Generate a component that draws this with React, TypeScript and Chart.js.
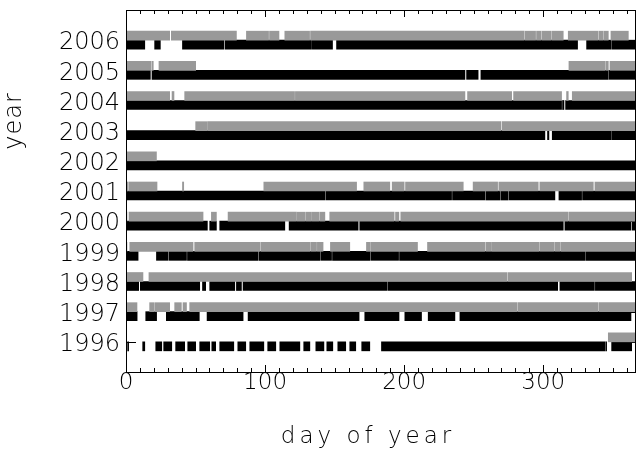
import React, { useEffect, useRef } from 'react';
import { Chart, registerables } from 'chart.js';

Chart.register(...registerables);

// ---- data (day-of-year coverage intervals) ----
const years = [2006, 2005, 2004, 2003, 2002, 2001, 2000, 1999, 1998, 1997, 1996];

const gray2006 = [[0, 31.4], [32.6, 79.4], [86.6, 102.5], [103.2, 110], [114.2, 132], [132.7, 286.3], [287, 294.5], [295.2, 298.5], [299.2, 305.8], [306.5, 314.4], [318, 339.3], [340, 343], [343.6, 346.8], [348.7, 361.2]];
const black2006 = [[0, 13.5], [20.6, 24.7], [40.6, 70.3], [71.2, 133.4], [134, 148.5], [151.4, 324.7], [331.2, 349], [349.7, 366]];
const gray2005 = [[0, 18], [18.7, 19.6], [23.7, 50.1], [318.5, 344.4], [345, 346.8], [348, 366]];
const black2005 = [[0, 17.5], [18.7, 243.7], [244.9, 253.2], [255.2, 346.6], [347.2, 366]];
const gray2004 = [[0, 31.4], [33.1, 34.5], [42.2, 121.2], [121.8, 243.7], [245.6, 277.3], [278.7, 313.2], [316.8, 318], [320.9, 366]];
const black2004 = [[0, 313.2], [313.9, 314.9], [316.1, 366]];
const gray2003 = [[50.1, 58], [58.6, 269.6], [270.5, 366]];
const black2003 = [[0, 301.2], [303.1, 304.1], [306.5, 349], [349.6, 366]];
const gray2002 = [[0, 21.9]];
const black2002 = [[0, 366]];
const gray2001 = [[0, 1.3], [2, 22.3], [40.6, 41.5], [99.1, 165.8], [171, 189.7], [191.4, 200], [201, 242.5], [249.6, 267.2], [268.1, 296.4], [297.6, 336], [337.2, 366]];
const black2001 = [[0, 143], [143.7, 234.1], [234.8, 258.1], [258.8, 268.8], [269.5, 274.8], [275.5, 308.4], [311.3, 327.6], [328.3, 366]];
const gray2000 = [[0, 0.7], [2.2, 55.4], [61.4, 65], [73.4, 122.6], [123.2, 128.6], [129.2, 133.4], [134, 138.8], [139.4, 143], [146.5, 192.8], [193.8, 196.2], [197.6, 318], [318.7, 366]];
const black2000 = [[0, 58.5], [60.2, 65], [67.4, 114.2], [117.3, 166.9], [168.1, 314.4], [315.6, 363.1], [364, 366]];
const gray1999 = [[0, 0.7], [2.7, 48.2], [49.4, 96.2], [96.9, 132.2], [132.8, 137], [137.6, 141.7], [147, 160.9], [172.9, 175.3], [175.9, 209.6], [216.8, 258.1], [258.8, 262.2], [262.8, 297.1], [297.7, 307.7], [308.3, 312], [312.6, 366]];
const black1999 = [[0, 8.7], [21.9, 30.2], [30.9, 43.5], [44.2, 95], [95.7, 139.3], [140, 147.8], [148.5, 175.3], [176, 196], [196.7, 330.3], [331, 366]];
const gray1998 = [[0, 12.2], [16.5, 274], [274.7, 363.6]];
const black1998 = [[0, 9.1], [10.3, 53], [55, 57.3], [60.2, 78.2], [79.4, 83], [84.2, 187.5], [188.2, 310.4], [312, 336.8], [337.5, 366]];
const gray1997 = [[0, 7.9], [17, 19.9], [20.6, 31.4], [35, 39.8], [41, 43.5], [45.8, 281], [281.7, 339.5], [340.2, 366]];
const black1997 = [[0, 8], [14.2, 22], [29, 52.7], [58.3, 84.2], [87.8, 167.6], [171.7, 196.3], [200.5, 212.5], [217.3, 236.5], [240.1, 363.1]];
const gray1996 = [[346.8, 366]];
const black1996 = [[1.2, 1.9], [12, 13.5], [21.4, 25.7], [27.1, 32.9], [35.7, 42.2], [44.4, 50.1], [53, 60.2], [61.7, 64.5], [67.4, 77.5], [80.4, 86.1], [89, 99.1], [101.9, 107.7], [110.6, 125], [127.8, 132.2], [136.5, 142.3], [144.4, 148.7], [152.3, 158], [160.9, 165.2], [169.5, 175.3], [183.7, 344.4], [345, 345.6], [349.2, 363.6]];

const grayRows = [gray2006, gray2005, gray2004, gray2003, gray2002, gray2001, gray2000, gray1999, gray1998, gray1997, gray1996];
const blackRows = [black2006, black2005, black2004, black2003, black2002, black2001, black2000, black1999, black1998, black1997, black1996];

const xTickValues = [0, 100, 200, 300];
const xTitle = 'day of year';
const yTitle = 'year';

const FONT = "'DejaVu Sans', sans-serif";

export default function App() {
  const ref = useRef<HTMLCanvasElement>(null);

  useEffect(() => {
    if (!ref.current) return;
    const grayData: any[] = [];
    const blackData: any[] = [];
    years.forEach((yr, i) => {
      grayRows[i].forEach(([s, e]) => grayData.push({ x: [s, e], y: yr }));
      blackRows[i].forEach(([s, e]) => blackData.push({ x: [s, e], y: yr }));
    });

    const framePlugin = {
      id: 'frame',
      beforeDatasetsDraw(chart: any) {
        const { ctx, chartArea, scales } = chart;
        const { left, right, top, bottom } = chartArea;
        const x = scales.x;
        const y = scales.y;
        ctx.save();
        ctx.strokeStyle = '#000';
        ctx.lineWidth = 1;
        ctx.beginPath();
        for (let d = 10; d < 366; d += 10) {
          const px = Math.round(x.getPixelForValue(d)) + 0.5;
          const len = d % 100 === 0 ? 7 : 4;
          ctx.moveTo(px, bottom);
          ctx.lineTo(px, bottom - len);
          ctx.moveTo(px, top);
          ctx.lineTo(px, top + len);
        }
        years.forEach((yr) => {
          const py = Math.round(y.getPixelForValue(yr)) + 0.5;
          ctx.moveTo(left, py);
          ctx.lineTo(left + 10, py);
          ctx.moveTo(right, py);
          ctx.lineTo(right - 10, py);
        });
        ctx.stroke();
        ctx.restore();
      },
      afterDatasetsDraw(chart: any) {
        const { ctx, chartArea } = chart;
        const { left, right, top, bottom } = chartArea;
        ctx.save();
        ctx.strokeStyle = '#000';
        ctx.lineWidth = 1;
        ctx.strokeRect(left + 0.5, top + 0.5, right - left, bottom - top);
        ctx.restore();
      },
      afterDraw(chart: any) {
        const { ctx } = chart;
        ctx.save();
        ctx.fillStyle = '#000';
        ctx.font = `200 23px ${FONT}`;
        (ctx as any).letterSpacing = '4px';
        ctx.textAlign = 'center';
        ctx.textBaseline = 'middle';
        ctx.fillText(xTitle, 368, 437);
        (ctx as any).letterSpacing = '1px';
        ctx.font = `200 24px ${FONT}`;
        ctx.translate(15, 121);
        ctx.rotate(-Math.PI / 2);
        ctx.fillText(yTitle, 0, 0);
        ctx.restore();
      },
    };

    const chart = new Chart(ref.current, {
      type: 'bar',
      data: {
        datasets: [
          {
            label: 'gray',
            data: grayData,
            backgroundColor: '#999999',
            borderWidth: 0,
            barThickness: 9,
          },
          {
            label: 'black',
            data: blackData,
            backgroundColor: '#000000',
            borderWidth: 0,
            barThickness: 9,
          },
        ],
      },
      options: {
        indexAxis: 'y',
        animation: false,
        responsive: false,
        devicePixelRatio: 1,
        layout: { padding: { left: 0, right: 4, top: 10, bottom: 0 } },
        plugins: { legend: { display: false }, tooltip: { enabled: false } },
        scales: {
          x: {
            type: 'linear',
            min: 0,
            max: 366,
            offset: false,
            grid: { display: false, drawTicks: false },
            border: { display: false },
            ticks: {
              stepSize: 100,
              includeBounds: false,
              autoSkip: false,
              maxRotation: 0,
              padding: 0,
              color: '#000',
              font: { family: FONT, size: 23, lineHeight: 1, weight: '200' },
              callback: (v: any) => (xTickValues.includes(Number(v)) ? String(v) : ''),
            },
            afterFit: (s: any) => {
              s.height = 78;
              s.paddingLeft = 0;
              s.paddingRight = 0;
            },
          },
          y: {
            type: 'linear',
            min: 1995,
            max: 2007,
            offset: false,
            grid: { display: false, drawTicks: false },
            border: { display: false },
            ticks: {
              stepSize: 1,
              autoSkip: false,
              padding: 6,
              labelOffset: 3,
              color: '#000',
              font: { family: FONT, size: 24, lineHeight: 1, weight: '200' },
              callback: (v: any) => (years.includes(Number(v)) ? String(v) : ''),
            },
            afterFit: (s: any) => {
              s.width = 126;
              s.paddingTop = 0;
              s.paddingBottom = 0;
            },
          },
        },
      },
      plugins: [framePlugin],
    });
    return () => chart.destroy();
  }, []);

  return (
    <div style={{ position: 'fixed', left: 0, top: 0, width: 639, height: 450, background: '#fff' }}>
      <canvas ref={ref} width={639} height={450} style={{ width: 639, height: 450 }} />
    </div>
  );
}
